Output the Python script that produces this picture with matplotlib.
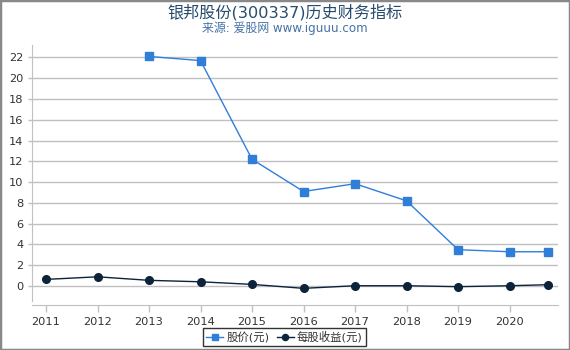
import matplotlib
matplotlib.use("Agg")
import matplotlib.pyplot as plt
import numpy as np
from matplotlib.patches import Rectangle

plt.rcParams['font.family'] = ['DejaVu Sans', 'Noto Sans CJK SC']

# data
x_pos = [2011, 2012, 2013, 2014, 2015, 2016, 2017, 2018, 2019, 2020, 2020.75]
price = [np.nan, np.nan, 22.1, 21.7, 12.2, 9.1, 9.85, 8.2, 3.5, 3.3, 3.3]
eps = [0.64, 0.89, 0.55, 0.41, 0.16, -0.22, 0.03, 0.03, -0.06, 0.03, 0.13]
xticks = [2011, 2012, 2013, 2014, 2015, 2016, 2017, 2018, 2019, 2020]
yticks = [0, 2, 4, 6, 8, 10, 12, 14, 16, 18, 20, 22]
title = "银邦股份(300337)历史财务指标"
subtitle = "来源: 爱股网 www.iguuu.com"
labels = ["股价(元)", "每股收益(元)"]

W, H = 570, 350
fig = plt.figure(figsize=(W / 100, H / 100), dpi=100)
ax = fig.add_axes([32.3 / W, 1 - 300.7 / H, (558 - 32.3) / W, (300.7 - 45) / H])

ax.plot(x_pos, price, color='#2f7ed8', lw=1, marker='s', ms=5.5, label=labels[0], zorder=3)
ax.plot(x_pos, eps, color='#0d233a', lw=1, marker='o', ms=5.5, label=labels[1], zorder=3)

ax.set_xlim(2010.734, 2020.94)
ax.set_ylim(-1.41, 23.2)
ax.set_xticks(xticks)
ax.set_xticklabels([str(t) for t in xticks])
ax.set_yticks(yticks)
ax.yaxis.grid(True, color='#c0c0c0', lw=1)
ax.set_axisbelow(True)
for s in ['top', 'right']:
    ax.spines[s].set_visible(False)
ax.spines['left'].set_color('#c0c0c0')
ax.spines['bottom'].set_color('#c0c0c0')
ax.spines['bottom'].set_position(('outward', 3))
ax.tick_params(axis='x', colors='#c0c0c0', labelcolor='#333333', labelsize=8.2, length=5, width=1)
ax.tick_params(axis='y', colors='#c0c0c0', labelcolor='#333333', labelsize=8.2, length=3, width=1)

fig.text(0.5, 1 - 12 / H, title, ha='center', va='center', fontsize=11.6, color='#274b6d')
fig.text(0.5, 1 - 28 / H, subtitle, ha='center', va='center', fontsize=8.6, color='#4572a7')

leg = fig.legend(loc='center', bbox_to_anchor=(284.5 / W, 1 - 337 / H), ncol=2, fontsize=8.2,
                 frameon=True, fancybox=False, edgecolor='black', handlelength=1.5,
                 handletextpad=0.3, columnspacing=0.6, borderpad=0.3, markerscale=0.8)
leg.get_frame().set_linewidth(1)
for t in leg.get_texts():
    t.set_color('#333333')

fig.patches.append(Rectangle((0, 0), 1, 1, transform=fig.transFigure, fill=False,
                             edgecolor='#888888', lw=2.5))
fig.savefig('out.png', dpi=100)
